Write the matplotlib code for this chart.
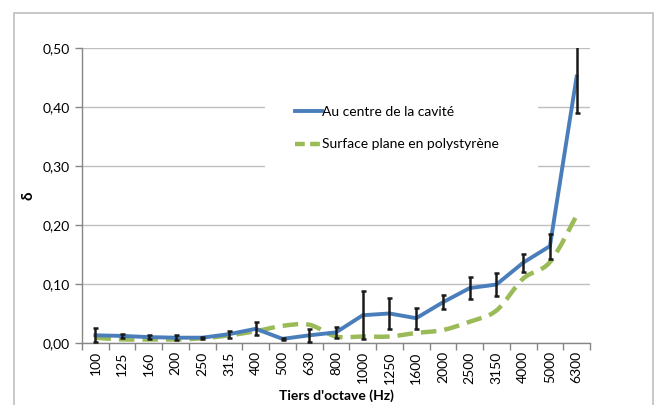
import numpy as np
import matplotlib
matplotlib.use("Agg")
import matplotlib.pyplot as plt
from matplotlib.path import Path
from matplotlib.patches import PathPatch, Rectangle
from matplotlib.lines import Line2D
from matplotlib.ticker import FuncFormatter

plt.rcParams['font.family'] = ['Lato', 'DejaVu Sans']

# --------- data ---------
freqs = ['100', '125', '160', '200', '250', '315', '400', '500', '630', '800',
         '1000', '1250', '1600', '2000', '2500', '3150', '4000', '5000', '6300']
cavity = [0.013, 0.012, 0.010, 0.009, 0.009, 0.015, 0.024, 0.007, 0.013, 0.018,
          0.047, 0.050, 0.042, 0.069, 0.093, 0.099, 0.136, 0.164, 0.451]
cavity_err = [0.012, 0.004, 0.004, 0.004, 0.002, 0.006, 0.011, 0.002, 0.011, 0.009,
              0.041, 0.026, 0.018, 0.012, 0.019, 0.020, 0.015, 0.021, 0.062]
polystyrene = [0.009, 0.006, 0.006, 0.006, 0.008, 0.013, 0.020, 0.029, 0.031, 0.011,
               0.011, 0.011, 0.017, 0.022, 0.036, 0.055, 0.109, 0.137, 0.216]

blue = '#4A7EBB'
green = '#9BBB59'
grid_c = '#BFBFBF'


def smooth_path(xs, ys):
    # Catmull-Rom style bezier through the points (like a smoothed line)
    pts = np.column_stack([xs, ys])
    verts = [pts[0]]
    codes = [Path.MOVETO]
    n = len(pts)
    for i in range(n - 1):
        p0 = pts[i - 1] if i > 0 else pts[i]
        p1 = pts[i]
        p2 = pts[i + 1]
        p3 = pts[i + 2] if i + 2 < n else pts[i + 1]
        c1 = p1 + (p2 - p0) / 6.0
        c2 = p2 - (p3 - p1) / 6.0
        verts += [c1, c2, p2]
        codes += [Path.CURVE4] * 3
    return Path(verts, codes)


fig = plt.figure(figsize=(6.57, 4.05), dpi=100)
ax = fig.add_axes([82 / 657, 1 - 343 / 405, 508 / 657, 295.3 / 405])

x = np.arange(len(freqs))

# outer chart border
fig.patches.append(Rectangle((14 / 657, -0.05), 639 / 657, 1.05 - 13 / 405,
                             transform=fig.transFigure, fill=False,
                             edgecolor='#BFBFBF', linewidth=1.2))

ax.plot(x, cavity, color=blue, linewidth=2.8, solid_joinstyle='round', zorder=3)
ax.errorbar(x, cavity, yerr=cavity_err, fmt='none', ecolor='#1a1a1a',
            elinewidth=1.8, capsize=1.8, capthick=1.8, zorder=4)

ax.add_patch(PathPatch(smooth_path(x, polystyrene), fill=False, edgecolor=green,
                       linewidth=3.2, linestyle=(0, (3.5, 1.8)), zorder=2))

ax.set_xlim(-0.5, len(freqs) - 0.5)
ax.set_ylim(0, 0.5)
ax.set_yticks(np.arange(0, 0.51, 0.1))
ax.yaxis.set_major_formatter(FuncFormatter(lambda v, p: f"{v:.2f}".replace('.', ',')))
ax.grid(axis='y', color=grid_c, linewidth=1.0, zorder=0)
ax.set_axisbelow(True)

ax.set_xticks(x)
ax.set_xticklabels(freqs, rotation=90)
ax.set_xticks(np.arange(-0.5, len(freqs)), minor=True)
ax.tick_params(axis='x', which='major', length=0, pad=6, labelsize=10, colors='#000000')
ax.tick_params(axis='x', which='minor', length=5, color='#868686', width=1)
ax.tick_params(axis='y', length=5, color='#868686', width=1, labelsize=10, pad=4)

for s in ['top', 'right']:
    ax.spines[s].set_visible(False)
for s in ['left', 'bottom']:
    ax.spines[s].set_color('#868686')
    ax.spines[s].set_linewidth(1)

ax.set_xlabel("Tiers d'octave (Hz)", fontsize=10, fontweight='bold', labelpad=4)
ax.set_ylabel("δ", fontsize=11, fontweight='bold', labelpad=5)

# legend with white background over the gridlines
ax.add_patch(Rectangle((0.360, 0.58), 0.538, 0.245, transform=ax.transAxes,
                       facecolor='white', edgecolor='none', zorder=1.5))
handles = [Line2D([], [], color=blue, linewidth=2.8),
           Line2D([], [], color=green, linewidth=3.2, linestyle=(0, (2.2, 1.2)))]
leg = ax.legend(handles, ['Au centre de la cavité', 'Surface plane en polystyrène'],
                loc='upper left', bbox_to_anchor=(0.405, 0.825), frameon=False,
                fontsize=10, handlelength=2.0, handletextpad=0.0,
                labelspacing=1.45, borderpad=0)
leg.set_zorder(5)

fig.savefig('out.png', dpi=100)
